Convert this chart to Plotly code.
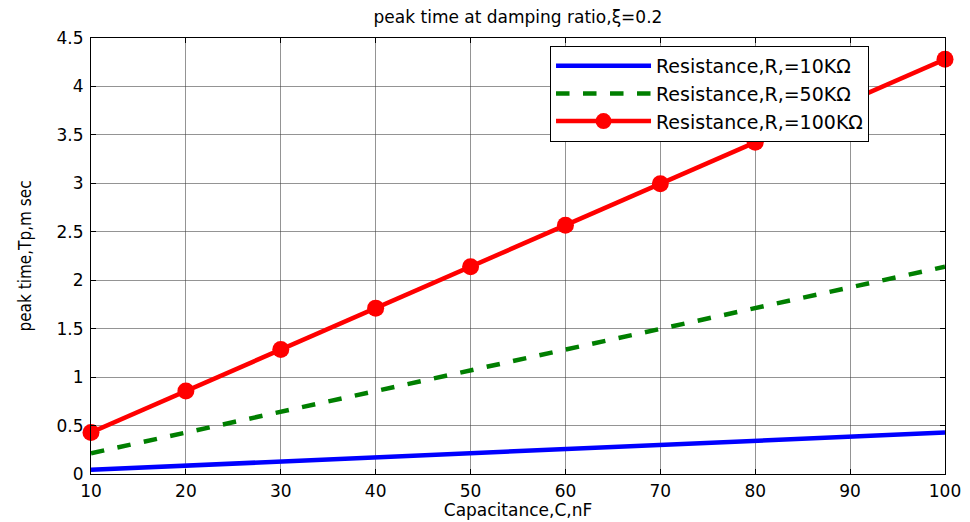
import plotly.graph_objects as go

capacitance = [10, 20, 30, 40, 50, 60, 70, 80, 90, 100]
tp_10k = [0.043, 0.086, 0.128, 0.171, 0.214, 0.257, 0.300, 0.342, 0.385, 0.428]
tp_50k = [0.214, 0.428, 0.642, 0.856, 1.070, 1.284, 1.498, 1.712, 1.926, 2.140]
tp_100k = [0.428, 0.856, 1.284, 1.712, 2.140, 2.568, 2.996, 3.424, 3.852, 4.280]
names = ["Resistance,R,=10KΩ", "Resistance,R,=50KΩ", "Resistance,R,=100KΩ"]

FONT = "DejaVu Sans, Liberation Sans, sans-serif"

fig = go.Figure()
fig.add_trace(go.Scatter(x=capacitance, y=tp_10k, mode="lines", name=names[0],
                         line=dict(color="#0000ff", width=4.5), cliponaxis=False))
fig.add_trace(go.Scatter(x=capacitance, y=tp_50k, mode="lines", name=names[1],
                         line=dict(color="#007f00", width=4.5, dash="dash"), cliponaxis=False))
fig.add_trace(go.Scatter(x=capacitance, y=tp_100k, mode="lines+markers", name=names[2],
                         line=dict(color="#ff0000", width=4.5),
                         marker=dict(color="#ff0000", size=17, symbol="circle"),
                         cliponaxis=False))

axis_common = dict(showline=True, linecolor="black", linewidth=1.2, mirror="ticks",
                   ticks="inside", ticklen=5, tickcolor="black", automargin=False,
                   showgrid=True, gridcolor="rgba(60,60,60,0.55)", gridwidth=1,
                   zeroline=False, tickfont=dict(family=FONT, size=17, color="black"))

fig.update_layout(
    width=970, height=522,
    paper_bgcolor="white", plot_bgcolor="white",
    margin=dict(l=91, r=25, t=38, b=48),
    title=dict(text="peak time at damping ratio,ξ=0.2", x=0.5, xanchor="center",
               y=0.967, yanchor="middle", xref="paper",
               font=dict(family=FONT, size=17, color="black")),
    xaxis=dict(range=[10, 100], tickvals=list(range(10, 101, 10)),
               ticklabelstandoff=1,
               title=dict(text="Capacitance,C,nF", standoff=3,
                          font=dict(family=FONT, size=17, color="black")),
               **axis_common),
    yaxis=dict(range=[0, 4.5], tickvals=[0, 0.5, 1, 1.5, 2, 2.5, 3, 3.5, 4, 4.5],
               ticktext=["0", "0.5", "1", "1.5", "2", "2.5", "3", "3.5", "4", "4.5"],
               ticklabelstandoff=3,
               title=dict(text="peak time,Tp,m sec", standoff=20,
                          font=dict(family="DejaVu Sans Condensed, Liberation Sans Narrow, sans-serif",
                                    size=17, color="black")),
               **axis_common),
    legend=dict(x=0.5375, y=0.982, xanchor="left", yanchor="top",
                bgcolor="white", bordercolor="black", borderwidth=1,
                font=dict(family=FONT, size=19, color="black"),
                tracegroupgap=0, itemwidth=95),
    showlegend=True,
)

fig.write_html("out.html")
